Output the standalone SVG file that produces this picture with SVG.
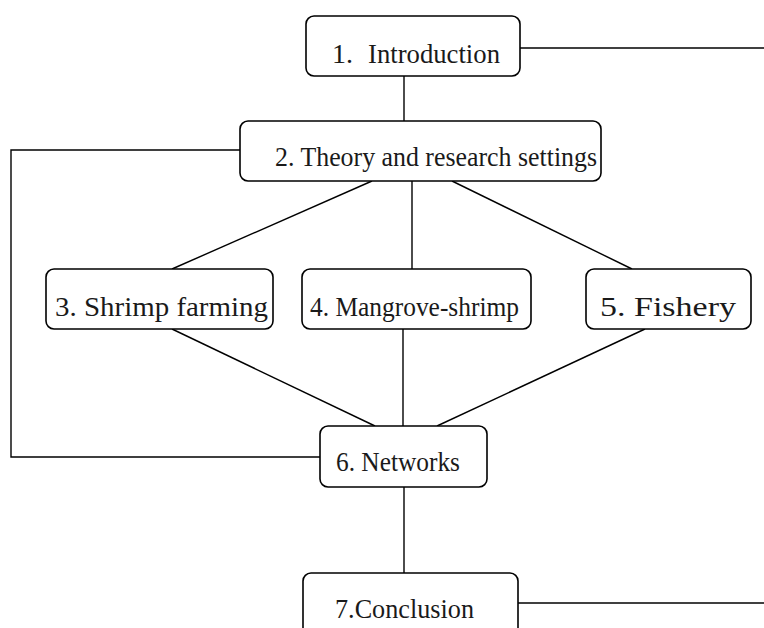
<svg xmlns="http://www.w3.org/2000/svg" width="764" height="628" viewBox="0 0 764 628">
  <style>
    .box { fill: #ffffff; stroke: #000000; stroke-width: 1.6; }
    .link { fill: none; stroke: #000000; stroke-width: 1.4; }
    .label { font-family: "Liberation Serif", "DejaVu Serif", serif; font-size: 28px; fill: #1a1a1a; }
  </style>
  <rect width="764" height="628" fill="#ffffff"/>

  <!-- connectors -->
  <g id="connectors">
    <line class="link" x1="520" y1="48" x2="764" y2="48"/>
    <line class="link" x1="404" y1="76" x2="404" y2="121"/>
    <polyline class="link" points="240,150 11,150 11,457 320,457"/>
    <line class="link" x1="372" y1="181" x2="172" y2="269"/>
    <line class="link" x1="412" y1="181" x2="412" y2="269"/>
    <line class="link" x1="452" y1="181" x2="632" y2="269"/>
    <line class="link" x1="172" y1="329" x2="375" y2="426"/>
    <line class="link" x1="403" y1="329" x2="403" y2="426"/>
    <line class="link" x1="645" y1="329" x2="437" y2="426"/>
    <line class="link" x1="404" y1="487" x2="404" y2="573"/>
    <line class="link" x1="518" y1="603" x2="764" y2="603"/>
  </g>

  <g id="n1">
    <rect class="box" x="306" y="16" width="214" height="60" rx="8"/>
    <text class="label" x="332" y="63">1.</text>
    <text class="label" x="368" y="63" textLength="132" lengthAdjust="spacingAndGlyphs">Introduction</text>
  </g>

  <g id="n2">
    <rect class="box" x="240" y="121" width="361" height="60" rx="8"/>
    <text class="label" x="275" y="166" textLength="322" lengthAdjust="spacingAndGlyphs">2. Theory and research settings</text>
  </g>

  <g id="n3">
    <rect class="box" x="46" y="269" width="227" height="60" rx="8"/>
    <text class="label" x="55" y="316" textLength="213" lengthAdjust="spacingAndGlyphs">3. Shrimp farming</text>
  </g>

  <g id="n4">
    <rect class="box" x="302" y="269" width="229" height="60" rx="8"/>
    <text class="label" x="310" y="316" textLength="209" lengthAdjust="spacingAndGlyphs">4. Mangrove-shrimp</text>
  </g>

  <g id="n5">
    <rect class="box" x="586" y="269" width="165" height="60" rx="8"/>
    <text class="label" x="600" y="316" textLength="136" lengthAdjust="spacingAndGlyphs">5. Fishery</text>
  </g>

  <g id="n6">
    <rect class="box" x="320" y="426" width="167" height="61" rx="8"/>
    <text class="label" x="336" y="471" textLength="124" lengthAdjust="spacingAndGlyphs">6. Networks</text>
  </g>

  <g id="n7">
    <rect class="box" x="303" y="573" width="215" height="70" rx="8"/>
    <text class="label" x="335" y="618" textLength="139" lengthAdjust="spacingAndGlyphs">7.Conclusion</text>
  </g>
</svg>
